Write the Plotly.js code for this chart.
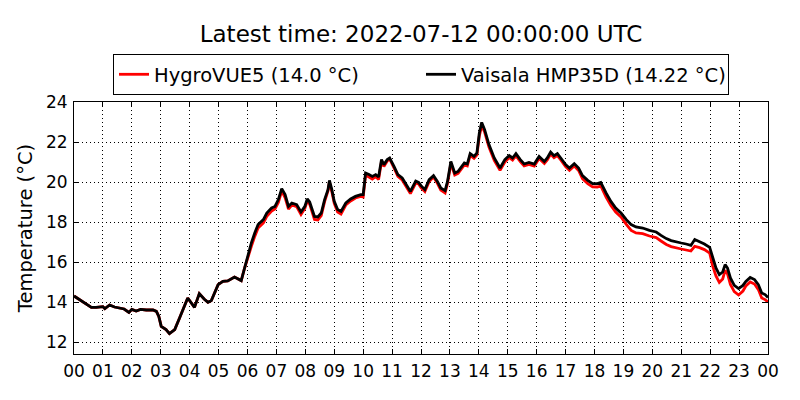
<!DOCTYPE html>
<html>
<head>
<meta charset="utf-8">
<script src="https://cdn.plot.ly/plotly-3.0.1.min.js"></script>
<style>
  html, body { margin: 0; padding: 0; background: #fff; }
  #chart { width: 800px; height: 400px; }
</style>
</head>
<body>
<div id="chart"></div>
<script>
// sample times on 2022-07-11 (HH:MM), one row per hour
var times = [
  '00:00','00:06','00:15','00:25','00:36','00:46',
  '01:00','01:04','01:14','01:24','01:34','01:44','01:54',
  '02:00','02:09','02:18','02:30','02:44','02:51','02:56',
  '03:01','03:11','03:18','03:29','03:39','03:49','03:56',
  '04:10','04:20','04:30','04:38','04:45','04:59',
  '05:09','05:19','05:33','05:47','05:54',
  '06:00','06:08','06:15','06:22','06:33','06:40','06:50','06:57',
  '07:04','07:11','07:18','07:25','07:32','07:42','07:51','07:59',
  '08:04','08:09','08:19','08:26','08:33','08:40','08:47','08:50','08:55',
  '09:00','09:07','09:14','09:24','09:34','09:44','09:55',
  '10:00','10:05','10:12','10:19','10:26','10:32','10:38','10:43','10:50','10:55',
  '11:04','11:12','11:21','11:31','11:38','11:49','11:55',
  '12:00','12:08','12:17','12:26','12:34','12:41','12:50','12:55',
  '13:02','13:10','13:17','13:30','13:36','13:42','13:50','13:56',
  '14:01','14:06','14:12','14:21','14:32','14:44','14:54',
  '15:03','15:10','15:17','15:26','15:34','15:44','15:55',
  '16:05','16:16','16:22','16:29','16:36','16:43','16:50',
  '17:00','17:08','17:18','17:27','17:35','17:46','17:56',
  '18:06','18:13','18:24','18:34','18:44','18:55',
  '19:06','19:16','19:26','19:40','19:54',
  '20:08','20:18','20:29','20:39','20:49',
  '21:00','21:10','21:20','21:28','21:38','21:48','21:59',
  '22:05','22:12','22:19','22:26','22:31','22:36','22:42','22:50','22:59',
  '23:08','23:14','23:23','23:32','23:40','23:47','23:54','24:00'
];

var vaisala = [
  14.3,14.2,14.06,13.9,13.73,13.73,
  13.77,13.67,13.85,13.75,13.7,13.65,13.48,
  13.63,13.55,13.63,13.6,13.6,13.53,13.28,
  12.78,12.62,12.42,12.62,13.2,13.78,14.2,
  13.73,14.42,14.15,13.98,14.07,14.87,
  15.03,15.05,15.25,15.07,15.7,
  16.3,16.95,17.45,17.87,18.12,18.45,18.7,18.78,
  19.12,19.67,19.37,18.78,18.95,18.87,18.5,18.78,
  19.15,19.0,18.28,18.25,18.45,19.12,19.62,20.08,19.62,
  19.03,18.62,18.53,18.95,19.15,19.28,19.37,
  19.37,20.45,20.37,20.28,20.37,20.25,21.12,20.87,21.12,21.2,
  20.78,20.37,20.2,19.78,19.53,20.05,19.98,
  19.82,19.62,20.12,20.32,20.03,19.7,19.57,20.03,
  21.03,20.45,20.53,20.95,20.9,21.42,21.28,21.45,
  22.45,22.98,22.62,21.87,21.2,20.7,21.12,
  21.32,21.2,21.42,21.12,20.9,20.98,20.9,
  21.28,21.03,21.2,21.5,21.32,21.42,21.2,
  20.87,20.7,20.92,20.7,20.32,20.08,19.92,
  19.92,19.98,19.45,19.03,18.7,18.45,
  18.12,17.87,17.75,17.7,17.58,
  17.5,17.33,17.17,17.07,17.0,
  16.95,16.9,16.83,17.12,17.03,16.9,16.73,
  16.2,15.7,15.37,15.5,15.87,15.7,15.2,14.83,14.67,
  14.83,15.03,15.23,15.12,14.87,14.45,14.37,14.22
];

var hygrovue = [
  14.3,14.2,14.06,13.9,13.73,13.73,
  13.77,13.67,13.85,13.75,13.7,13.65,13.48,
  13.63,13.55,13.63,13.6,13.6,13.53,13.28,
  12.78,12.62,12.42,12.62,13.2,13.78,14.2,
  13.73,14.42,14.15,13.98,14.07,14.87,
  15.03,15.05,15.25,15.07,15.7,
  16.2,16.78,17.28,17.7,17.95,18.28,18.55,18.65,
  18.98,19.55,19.22,18.65,18.85,18.77,18.38,18.68,
  19.05,18.9,18.13,18.1,18.32,19.02,19.55,20.0,19.52,
  18.93,18.5,18.4,18.85,19.05,19.2,19.28,
  19.25,20.35,20.25,20.15,20.27,20.12,21.02,20.78,21.05,21.15,
  20.7,20.28,20.1,19.68,19.42,19.95,19.9,
  19.72,19.52,20.03,20.25,19.93,19.6,19.45,19.93,
  20.93,20.35,20.43,20.85,20.8,21.33,21.18,21.35,
  22.3,22.82,22.5,21.75,21.08,20.58,21.0,
  21.22,21.1,21.32,21.02,20.8,20.88,20.8,
  21.18,20.93,21.1,21.4,21.22,21.32,21.1,
  20.77,20.58,20.8,20.58,20.17,19.92,19.76,
  19.75,19.8,19.25,18.83,18.5,18.25,
  17.88,17.58,17.45,17.42,17.3,
  17.22,17.05,16.88,16.77,16.7,
  16.65,16.6,16.55,16.78,16.72,16.62,16.45,
  15.82,15.3,14.98,15.15,15.58,15.4,14.88,14.52,14.35,
  14.55,14.8,15.0,14.9,14.62,14.2,14.12,14.0
];

var seriesNames = ['HygroVUE5 (14.0 °C)', 'Vaisala HMP35D (14.22 °C)'];
var yTicks = [12, 14, 16, 18, 20, 22, 24];

var day = '2022-07-11';
var nextDay = '2022-07-12';
var stamps = times.map(function(t) {
    return t === '24:00' ? nextDay + ' 00:00' : day + ' ' + t;
});

var font = 'DejaVu Sans, sans-serif';

var data = [
    {
        type: 'scatter',
        mode: 'lines',
        name: seriesNames[0],
        x: stamps,
        y: hygrovue,
        line: {color: '#ff0000', width: 2.8}
    },
    {
        type: 'scatter',
        mode: 'lines',
        name: seriesNames[1],
        x: stamps,
        y: vaisala,
        line: {color: '#000000', width: 2.8}
    }
];

var axisCommon = {
    showline: true,
    linecolor: '#000',
    linewidth: 1,
    mirror: 'ticks',
    ticks: 'inside',
    ticklen: 5,
    tickwidth: 1,
    tickcolor: '#000',
    showgrid: true,
    gridcolor: '#000',
    gridwidth: 1,
    griddash: '1px,3px',
    zeroline: false,
    tickfont: {family: font, size: 17, color: '#000'}
};

var layout = {
    width: 800,
    height: 400,
    margin: {l: 74, r: 32, t: 102, b: 46},
    paper_bgcolor: '#fff',
    plot_bgcolor: '#fff',
    font: {family: font, color: '#000'},
    title: {
        text: 'Latest time: ' + nextDay + ' 00:00:00 UTC',
        font: {family: font, size: 23, color: '#000'},
        x: 0.5,
        xref: 'paper',
        y: 0.915,
        yref: 'container',
        yanchor: 'middle'
    },
    showlegend: true,
    legend: {
        orientation: 'h',
        x: 0.5,
        xanchor: 'center',
        y: 1.19,
        yanchor: 'top',
        entrywidth: 262,
        bordercolor: '#000',
        borderwidth: 1,
        font: {family: font, size: 19.5, color: '#000'},
        bgcolor: '#fff'
    },
    xaxis: Object.assign({}, axisCommon, {
        type: 'date',
        range: [day + ' 00:00', nextDay + ' 00:00'],
        dtick: 3600000,
        tick0: day + ' 00:00',
        tickformat: '%H',
        ticklabelstandoff: 2
    }),
    yaxis: Object.assign({}, axisCommon, {
        range: [11.4, 24],
        tickvals: yTicks,
        ticktext: yTicks.map(String),
        ticklabelstandoff: 2,
        title: {
            text: 'Temperature (°C)',
            font: {family: font, size: 19.5, color: '#000'},
            standoff: 8
        }
    })
};

Plotly.newPlot('chart', data, layout, {displayModeBar: false, staticPlot: true});
</script>
</body>
</html>
